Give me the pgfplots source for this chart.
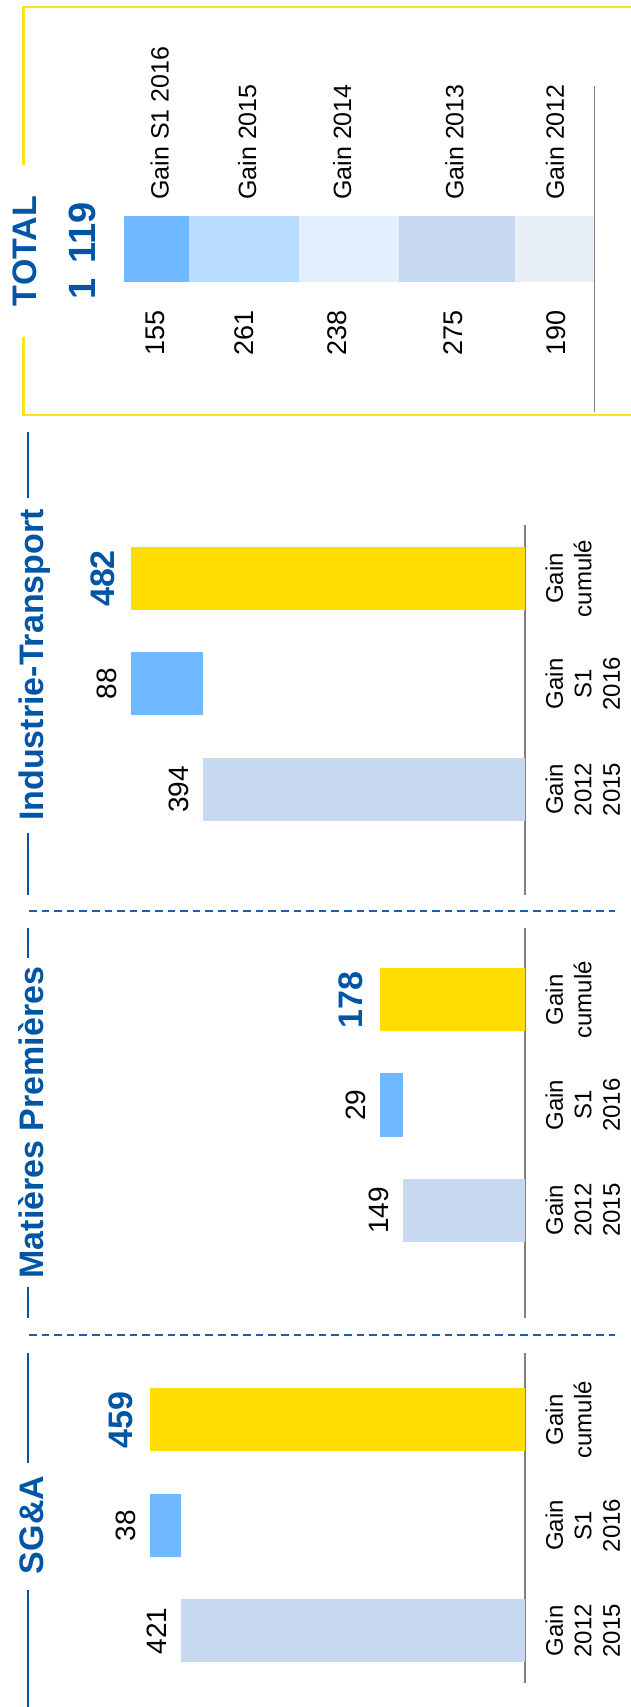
\documentclass[border=0pt]{standalone}
\usepackage{pgfplots}
\pgfplotsset{compat=1.18}
\usepackage{fontspec}
\setmainfont{Liberation Sans}

\definecolor{gainold}{HTML}{C6D9F0}
\definecolor{gains1}{HTML}{70B8FF}
\definecolor{gaincum}{HTML}{FFDD00}
\definecolor{g2015}{HTML}{B9DDFF}
\definecolor{g2014}{HTML}{E2F0FD}
\definecolor{g2013}{HTML}{C6D9F0}
\definecolor{g2012}{HTML}{E8EFF9}
\definecolor{titleblue}{HTML}{0055A5}
\definecolor{dashblue}{HTML}{1F5FA8}
\definecolor{basegray}{HTML}{808080}
\definecolor{boxyellow}{HTML}{FFE11E}

\pgfplotsset{
  panel/.style={
    scale only axis,
    xbar stacked,
    bar width=31.5pt,
    x dir=reverse,
    xmin=0, xmax=600,
    width=245.1pt,
    hide x axis,
    axis y line*=right,
    y axis line style={draw=basegray, line width=0.7pt},
    ytick={0,1,2},
    yticklabels={{Gain\\2012\\2015},{Gain\\S1\\2016},{Gain\\cumulé}},
    ytick style={draw=none},
    yticklabel style={xshift=10pt, rotate=90, anchor=north, align=center,
      inner sep=0pt, font=\fontsize{12}{14.25}\selectfont},
    clip=false,
    anchor=south west,
  },
}
\tikzset{
  val/.style={rotate=90, anchor=south, inner sep=0pt, font=\fontsize{14}{16}\selectfont},
  cum/.style={rotate=90, anchor=south, inner sep=0pt, font=\fontsize{17}{20}\selectfont\bfseries, text=titleblue},
  ttl/.style={rotate=90, anchor=base, inner sep=0pt, font=\fontsize{17}{20}\selectfont\bfseries, text=titleblue},
  tlab/.style={rotate=90, anchor=west, inner sep=0pt, font=\fontsize{12.5}{15}\selectfont},
  tval/.style={rotate=90, inner sep=0pt, font=\fontsize{13.5}{16}\selectfont},
}

\begin{document}
\begin{tikzpicture}
\useasboundingbox (0,0) rectangle (315.5pt,853.5pt);

% SG&A
\begin{axis}[panel, height=165pt, ymin=-0.493, ymax=2.635, at={(17.4pt,12pt)}]
\addplot[fill=gainold, draw=none] coordinates {(421,0) (0,1) (0,2)};
\addplot[fill=none, draw=none] coordinates {(0,0) (421,1) (0,2)};
\addplot[fill=gains1, draw=none] coordinates {(0,0) (38,1) (0,2)};
\addplot[fill=gaincum, draw=none] coordinates {(0,0) (0,1) (459,2)};
\node[val] at (axis cs:438,0) {421};
\node[val] at (axis cs:476,1) {38};
\node[cum] at (axis cs:479,2) {459};
\end{axis}

% Matieres Premieres
\begin{axis}[panel, height=195pt, ymin=-1.024, ymax=2.682, at={(17.4pt,194.5pt)}]
\addplot[fill=gainold, draw=none] coordinates {(149,0) (0,1) (0,2)};
\addplot[fill=none, draw=none] coordinates {(0,0) (149,1) (0,2)};
\addplot[fill=gains1, draw=none] coordinates {(0,0) (29,1) (0,2)};
\addplot[fill=gaincum, draw=none] coordinates {(0,0) (0,1) (178,2)};
\node[val] at (axis cs:166,0) {149};
\node[val] at (axis cs:195,1) {29};
\node[cum] at (axis cs:198,2) {178};
\end{axis}

% Industrie-Transport
\begin{axis}[panel, height=185pt, ymin=-1.0, ymax=2.507, at={(17.4pt,406pt)}]
\addplot[fill=gainold, draw=none] coordinates {(394,0) (0,1) (0,2)};
\addplot[fill=none, draw=none] coordinates {(0,0) (394,1) (0,2)};
\addplot[fill=gains1, draw=none] coordinates {(0,0) (88,1) (0,2)};
\addplot[fill=gaincum, draw=none] coordinates {(0,0) (0,1) (482,2)};
\node[val] at (axis cs:411,0) {394};
\node[val] at (axis cs:499,1) {88};
\node[cum] at (axis cs:501,2) {482};
\end{axis}

% TOTAL
\begin{axis}[scale only axis, xbar stacked, bar width=33pt, x dir=reverse,
  xmin=0, xmax=1200, width=252.3pt, height=163pt, ymin=-1, ymax=1,
  hide x axis, axis y line*=right,
  y axis line style={draw=basegray, line width=0.7pt},
  ytick=\empty, clip=false, anchor=south west, at={(44.95pt,647.5pt)}]
\addplot[fill=g2012, draw=none] coordinates {(190,0)};
\addplot[fill=g2013, draw=none] coordinates {(275,0)};
\addplot[fill=g2014, draw=none] coordinates {(238,0)};
\addplot[fill=g2015, draw=none] coordinates {(261,0)};
\addplot[fill=gains1, draw=none] coordinates {(155,0)};
\node[tlab] at (axis cs:94,0.30) {Gain 2012};
\node[tlab] at (axis cs:333,0.30) {Gain 2013};
\node[tlab] at (axis cs:600,0.30) {Gain 2014};
\node[tlab] at (axis cs:826,0.30) {Gain 2015};
\node[tlab] at (axis cs:1034,0.30) {Gain S1 2016};
\node[tval] at (axis cs:92,-0.515) {190};
\node[tval] at (axis cs:336,-0.515) {275};
\node[tval] at (axis cs:613,-0.515) {238};
\node[tval] at (axis cs:833,-0.515) {261};
\node[tval] at (axis cs:1044,-0.515) {155};
\end{axis}

% decorations, in pixel units of the reference (y downwards)
\begin{scope}[x=0.5pt, y=-0.5pt, shift={(0pt,853.5pt)}]
\draw[dashblue, line width=1.2pt, dash pattern=on 3.75pt off 2.55pt] (29,911) -- (615,911);
\draw[dashblue, line width=1.2pt, dash pattern=on 3.75pt off 2.55pt] (29,1335) -- (615,1335);
\node[ttl] at (43,1525) {SG\&A};
\node[ttl] at (43,1122.5) {Matières Premières};
\node[ttl] at (43,665) {Industrie-Transport};
\draw[titleblue, line width=1pt] (27.5,1353) -- (27.5,1463) (27.5,1590) -- (27.5,1707);
\draw[titleblue, line width=1pt] (27.5,928) -- (27.5,958) (27.5,1287) -- (27.5,1318);
\draw[titleblue, line width=1pt] (27.5,432) -- (27.5,498) (27.5,833) -- (27.5,895);
\draw[boxyellow, line width=1.2pt] (631,7.3) -- (23.3,7.3) -- (23.3,165)
  (23.3,337) -- (23.3,415) -- (631,415);
\node[ttl] at (36.7,251) {TOTAL};
\node[ttl, font=\fontsize{19}{23}\selectfont\bfseries] at (95,251) {1 \hspace{0.13em}119};
\end{scope}
\end{tikzpicture}
\end{document}
